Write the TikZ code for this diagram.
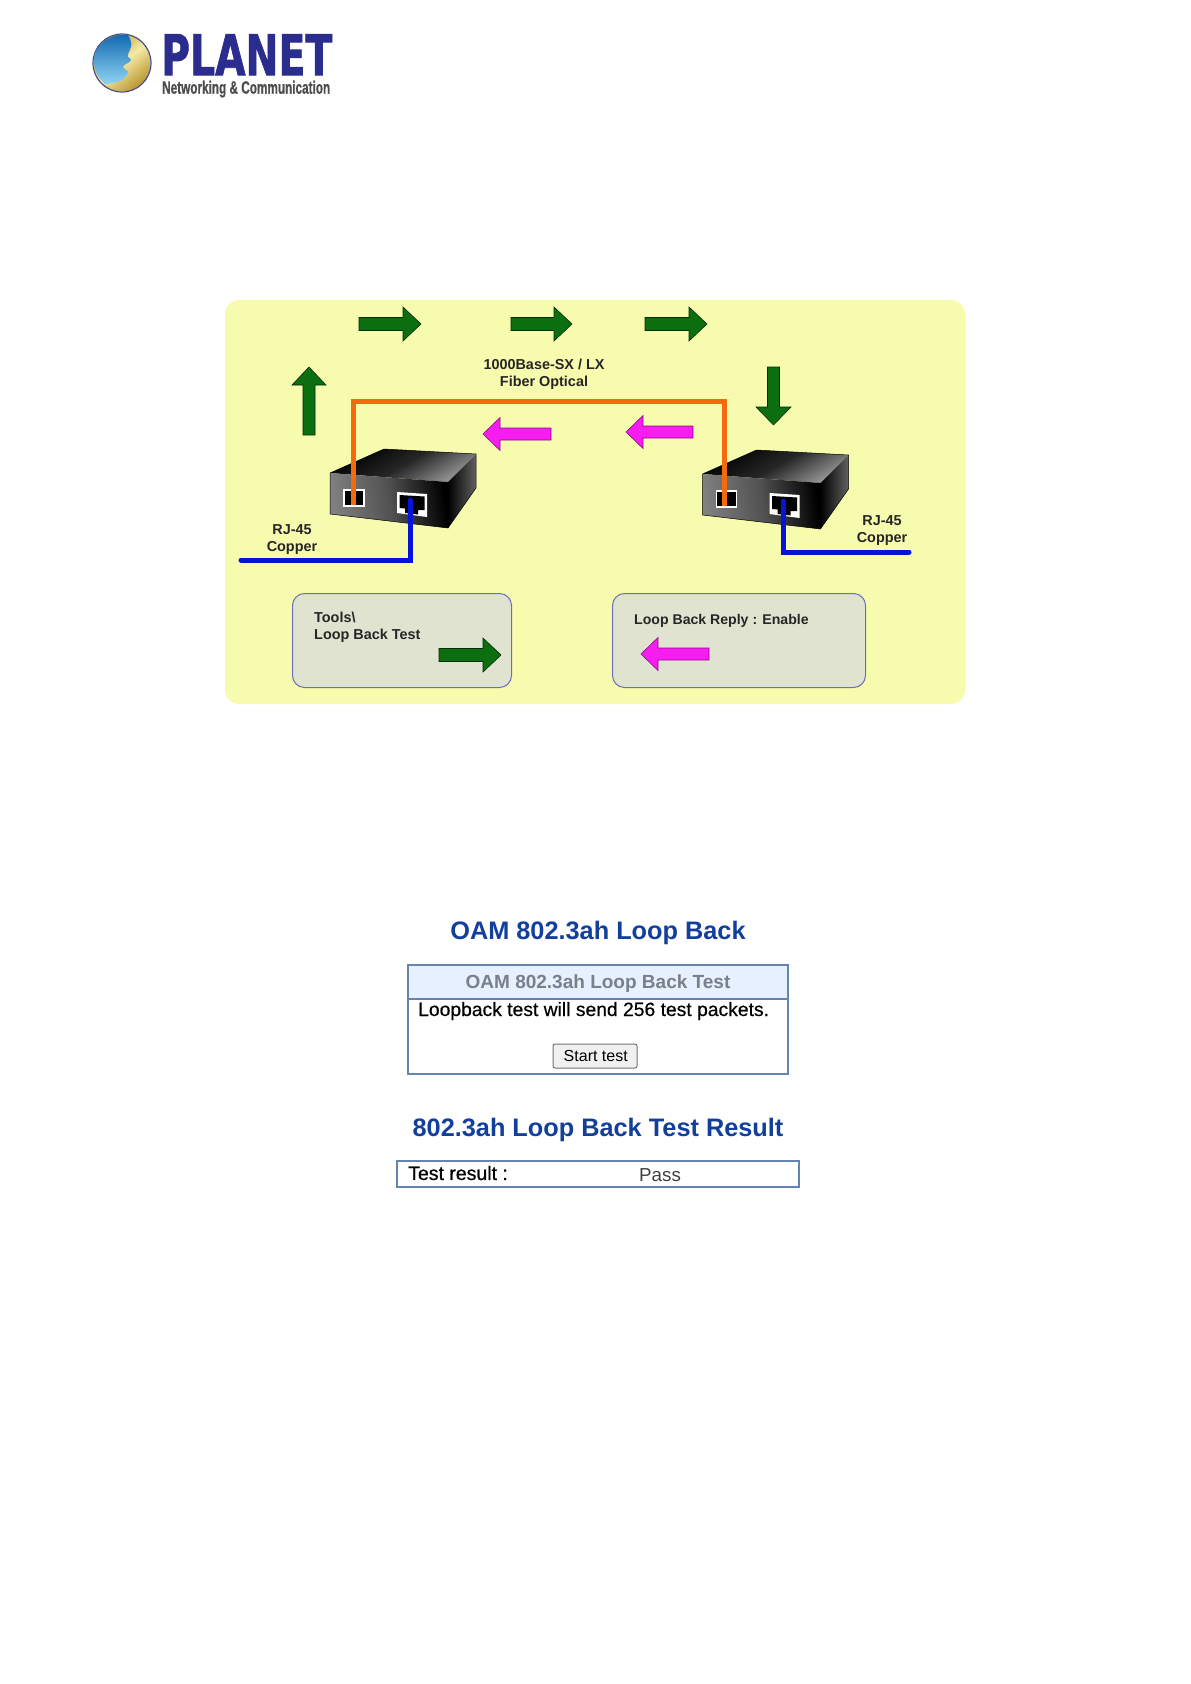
\documentclass[tikz,border=0pt]{standalone}
\usepackage{fontspec}
\usepackage{graphicx}
\setmainfont{Liberation Sans}
\usetikzlibrary{calc}
\definecolor{panel}{HTML}{F7FBAE}
\definecolor{greybox}{HTML}{E0E3D0}
\definecolor{boxedge}{HTML}{6E6FB5}
\definecolor{flowgreen}{HTML}{0B6F10}
\definecolor{flowpink}{HTML}{F71CF0}
\definecolor{fibre}{HTML}{F56A0C}
\definecolor{copper}{HTML}{0515D8}
\definecolor{webtitle}{HTML}{123F9C}
\definecolor{webedge}{HTML}{6486AE}
\definecolor{webhead}{HTML}{E6F0FF}
\definecolor{webgrey}{HTML}{7A808A}
\definecolor{logoblue}{HTML}{2A2C8E}
\definecolor{goldA}{HTML}{B8962E}
\definecolor{goldB}{HTML}{F5E9A6}
\definecolor{globeA}{HTML}{0E67B0}
\definecolor{globeB}{HTML}{8FD4F2}
\tikzset{
  grn/.style={fill=flowgreen,draw=black!60!flowgreen,line width=.6pt},
  pnk/.style={fill=flowpink,draw=black!45!flowpink,line width=.6pt},
  cable/.style={line width=5pt,line cap=round,line join=miter},
  lbl/.style={font=\bfseries\fontsize{14.4}{17}\selectfont,text=black!85,align=center,inner sep=0pt},
  boxlbl/.style={font=\bfseries\fontsize{14.4}{17}\selectfont,text=black!85,align=left,inner sep=0pt},
  greyround/.style={fill=greybox,draw=boxedge,line width=1pt,rounded corners=12pt},
  webtxt/.style={inner sep=0pt},
  webbox/.style={draw=webedge,line width=1.5pt,fill=white},
}
% horizontal arrow: x-tail, x-headbase, x-tip, y-centre, half shaft, half head, style
\newcommand{\harrow}[7]{\path[#7] (#1,#4-#5) -- (#2,#4-#5) -- (#2,#4-#6) -- (#3,#4) -- (#2,#4+#6) -- (#2,#4+#5) -- (#1,#4+#5) -- cycle;}
% vertical arrow: y-tail, y-headbase, y-tip, x-centre, half shaft, half head, style
\newcommand{\varrow}[7]{\path[#7] (#4-#5,#1) -- (#4-#5,#2) -- (#4-#6,#2) -- (#4,#3) -- (#4+#6,#2) -- (#4+#5,#2) -- (#4+#5,#1) -- cycle;}
% media converter: shift x, shift y, fibre end name, copper end name, fibre x, copper x
\newcommand{\converter}[6]{%
  \begin{scope}[shift={(#1,#2)}]
    \shade[left color=black,right color=black!40,middle color=black!85,shading angle=30]
       (330,473) -- (384,449) -- (476,454) -- (448,482) -- cycle;
    \shade[left color=black,right color=black!62]
       (448,482) -- (476,454) -- (476,488) -- (448,528) -- cycle;
    \shade[left color=black!50,right color=black,middle color=black!68,shading angle=97]
       (330,473) -- (448,482) -- (448,528) -- (330,514) -- cycle;
    \draw[black,line width=.5pt,line join=round] (330,473) -- (384,449) -- (476,454) -- (476,488) -- (448,528) -- (330,514) -- cycle;
    \path[fill=black,draw=white,line width=1.4pt] (344,490) rectangle (364,506);
    \coordinate (#3) at (#5,505);
    \path[fill=white] (397,492) -- (427,494) -- (427,517) -- (397,513) -- cycle;
    \path[fill=black] (399.5,495) -- (424.5,496.5) -- (424.5,510) -- (418,510) -- (418,514.5) -- (405,513) -- (405,508.5) -- (399.5,508) -- cycle;
    \coordinate (#4) at (#6,500);
  \end{scope}}
\begin{document}
\begin{tikzpicture}[x=1pt,y=-1pt]
\useasboundingbox (0,0) rectangle (1191,1684);
\fill[white] (0,0) rectangle (1191,1684);

% ---------- logo
\shade[left color=goldA,right color=goldA,middle color=goldB,shading angle=40] (122,63) circle (28.5);
\draw[black!50!blue!40!gray,line width=1.2pt] (122,63) circle (29);
\shade[top color=globeA,bottom color=globeB]
  (128,35) .. controls (131,40) and (132,44) .. (131,47) .. controls (130,51) and (127,54) .. (128,57)
  .. controls (129,58) and (131,58) .. (131,60) .. controls (130,63) and (124,64) .. (123,67)
  .. controls (124,70) and (128,70) .. (128,72) .. controls (127,76) and (124,78) .. (122,80)
  .. controls (116,83) and (110,84) .. (105,84) .. controls (96,76) and (92,66) .. (95,53)
  .. controls (100,41) and (114,33) .. (128,35) -- cycle;
\node[inner sep=0pt,text=logoblue,anchor=north west] (logoname) at (161,34)
  {\resizebox{171pt}{41pt}{\fontspec{DejaVu Sans Bold}[FakeBold=1.5]PLANET}};
\node[inner sep=0pt,text=black!70,anchor=north west] (logotag) at (162,80.5)
  {\resizebox{168pt}{13pt}{\fontspec{Liberation Sans Bold}[FakeBold=0.8]Networking \& Communication}};

% ---------- loop back diagram
\fill[panel,rounded corners=14pt] (225,300) rectangle (965,704);

\node[greyround,minimum width=219pt,minimum height=94pt,anchor=north west] (boxL) at (292,593) {};
\node[greyround,minimum width=253pt,minimum height=94pt,anchor=north west] (boxR) at (612,593) {};

\harrow{359}{403}{421}{324}{6.5}{17}{grn}
\harrow{511}{554}{572}{324}{6.5}{17}{grn}
\harrow{645}{689}{707}{324}{6.5}{17}{grn}
\varrow{435}{385}{367}{309}{6}{17}{grn}
\varrow{367}{407}{425}{773.5}{6}{17.5}{grn}
\harrow{551}{500}{483}{434}{6}{16.5}{pnk}
\harrow{693}{643}{626}{432}{6}{16.5}{pnk}
\harrow{439}{483}{501}{655}{6.5}{17}{grn}
\harrow{709}{658}{641}{654}{6}{16.5}{pnk}

\converter{0}{0}{fibL}{rjL}{353}{410}
\converter{372.5}{1}{fibR}{rjR}{351.5}{411}

\coordinate (cuL) at (241,560);
\coordinate (cuR) at (909,552);
\coordinate (fibT) at (fibR |- 0,401);
\draw[cable,fibre,line cap=butt] (fibL) |- (fibT) -- (fibR);
\draw[cable,copper] (cuL) -| (rjL);
\draw[cable,copper] (cuR) -| (rjR);

\node[lbl] (fibreLabel) at (544,374.5) {1000Base-SX / LX\\Fiber Optical};
\node[lbl] (rjLabelL) at (292,540) {RJ-45\\Copper};
\node[lbl] (rjLabelR) at (882,531) {RJ-45\\Copper};
\node[boxlbl,anchor=north west] (toolsLabel) at (314,612) {Tools\textbackslash\\Loop Back Test};
\node[boxlbl,anchor=west,font=\bfseries\fontsize{14.1}{17}\selectfont] (replyLabel) at (634,621) {Loop Back Reply : Enable};

% ---------- web screenshots
\node[webtxt,text=webtitle] (title1) at (598,933) {\bfseries\fontsize{25.3}{30}\selectfont OAM 802.3ah Loop Back};
\path[webbox] (408,965) rectangle (788,1074);
\path[fill=webhead,draw=webedge,line width=1.5pt] (408,965) rectangle (788,999);
\node[webtxt,text=webgrey] (head1) at (598,984) {\bfseries\fontsize{19}{22}\selectfont OAM 802.3ah Loop Back Test};
\node[webtxt,anchor=west] (msg1) at (418,1011) {\fontspec{Liberation Sans}[FakeBold=0.5]\fontsize{19.3}{22}\selectfont Loopback test will send 256 test packets.};
\node[webtxt,minimum width=84pt,minimum height=24pt,fill=black!6,draw=black!55,line width=1pt,rounded corners=2pt] (startBtn) at (595,1056) {\hspace*{1.5pt}\fontsize{16}{20}\selectfont Start test};

\node[webtxt,text=webtitle] (title2) at (598,1130) {\bfseries\fontsize{25.3}{30}\selectfont 802.3ah Loop Back Test Result};
\path[webbox] (397,1161) rectangle (799,1187);
\node[webtxt,anchor=west] (resKey) at (408,1173) {\fontspec{Liberation Sans}[FakeBold=0.7]\fontsize{19.5}{22}\selectfont Test result :};
\node[webtxt,anchor=west,text=black!75] (resVal) at (639,1175) {\fontsize{18.8}{22}\selectfont Pass};
\end{tikzpicture}
\end{document}
